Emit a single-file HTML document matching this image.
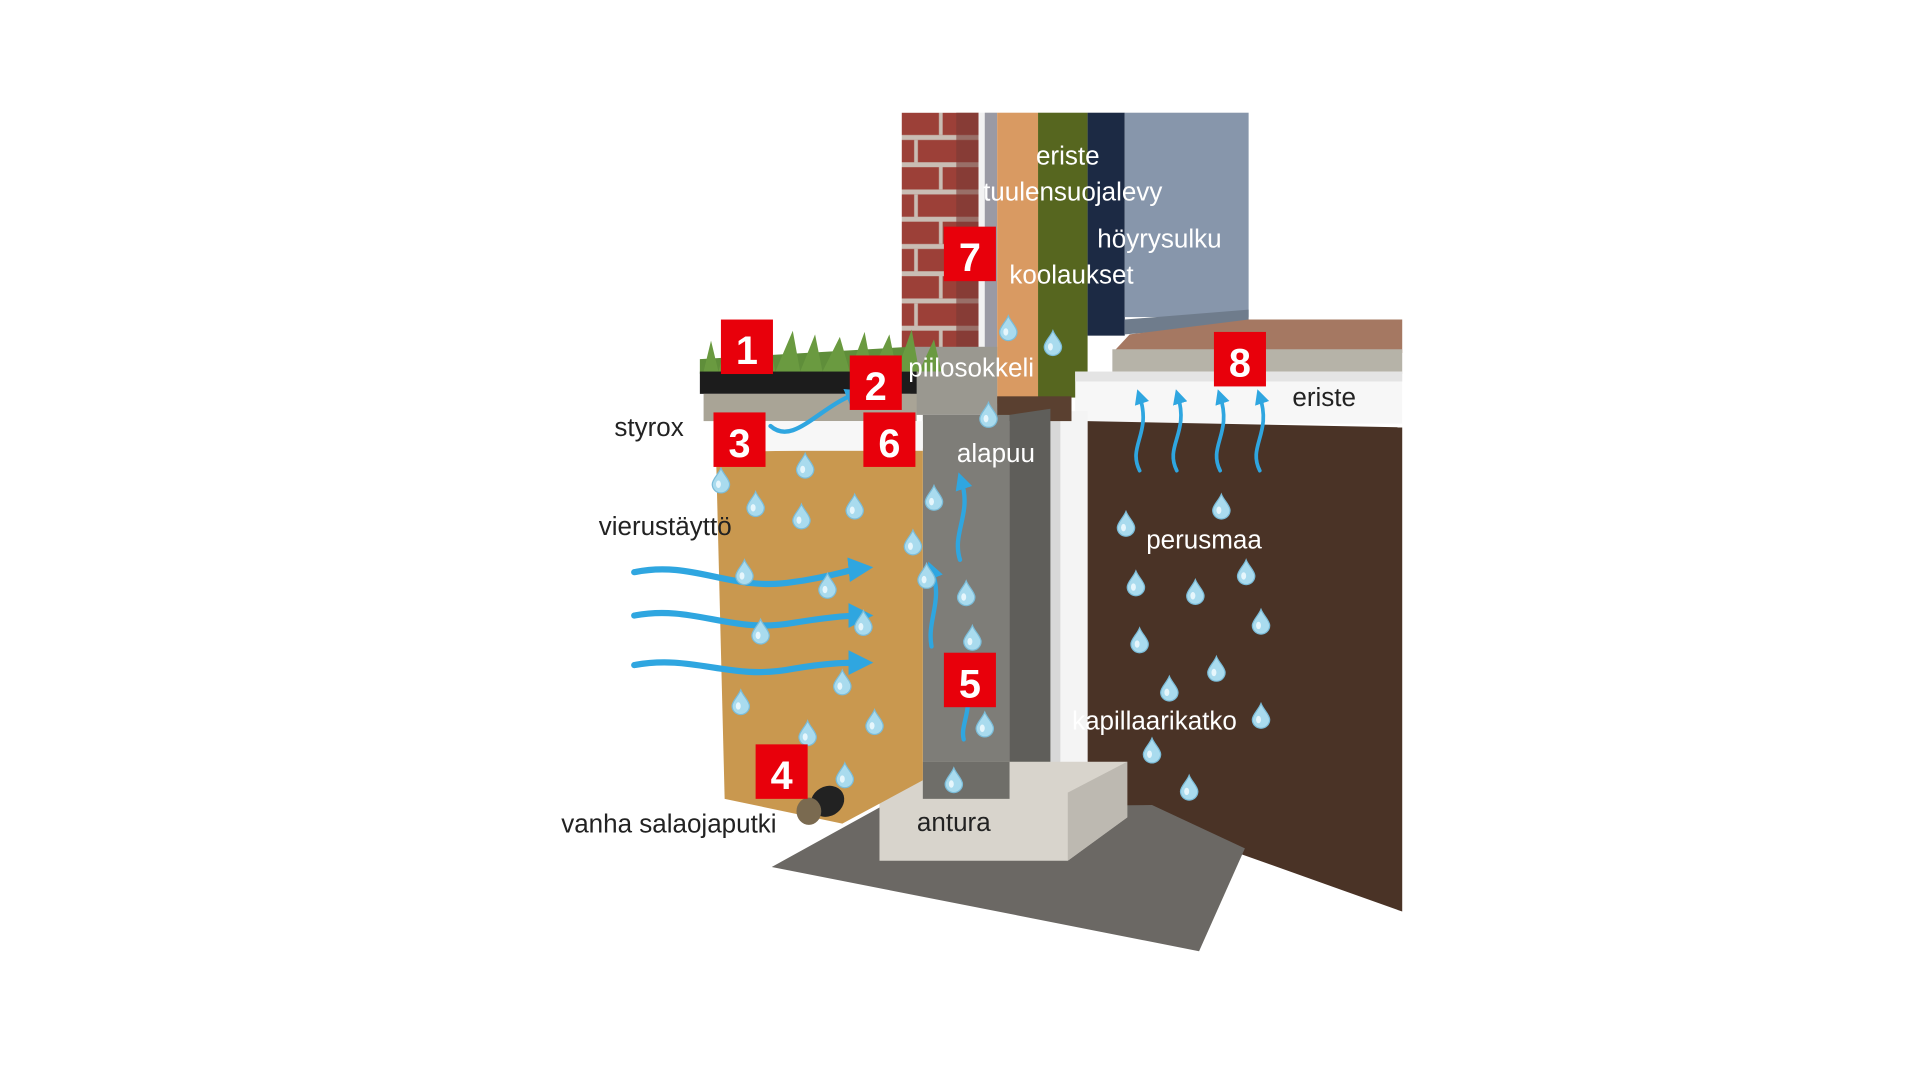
<!DOCTYPE html>
<html><head><meta charset="utf-8"><style>html,body{margin:0;padding:0;background:#fff;}svg{display:block}</style></head>
<body>
<svg width="1920" height="1080" viewBox="0 0 1550 872" preserveAspectRatio="none" xmlns="http://www.w3.org/2000/svg" font-family="'Liberation Sans', sans-serif">
<defs>
<pattern id="brick" width="62" height="44" patternUnits="userSpaceOnUse" x="728" y="91">
<rect width="62" height="44" fill="#9c4038"/>
<rect y="18" width="62" height="4" fill="#c9bdb4"/><rect y="40" width="62" height="4" fill="#c9bdb4"/>
<rect x="30" y="0" width="3" height="18" fill="#c9bdb4"/><rect x="10" y="22" width="3" height="18" fill="#c9bdb4"/>
</pattern>
<marker id="ah" markerWidth="4" markerHeight="4" refX="2" refY="2" orient="auto" markerUnits="strokeWidth"><path d="M0,0 L4,2 L0,4Z" fill="#2fa6e0"/></marker>
<g id="d"><path d="M0,-10 C2,-5 7,-1 7,3 A7,7 0 0 1 -7,3 C-7,-1 -2,-5 0,-10Z" fill="#a9dbee" stroke="#7bbcd8" stroke-width="1"/><ellipse cx="-2" cy="3" rx="2" ry="3" fill="#e6f6fc"/></g>
</defs>
<rect width="1550" height="872" fill="#fff"/>
<!-- wall layers -->
<rect x="728" y="91" width="62" height="200" fill="url(#brick)"/>
<rect x="772" y="91" width="18" height="200" fill="#7a3a35" opacity="0.6"/>
<rect x="790" y="91" width="15" height="240" fill="#f2f2f2"/>
<rect x="795" y="91" width="10" height="240" fill="#9a9aa4"/>
<rect x="805" y="91" width="33" height="235" fill="#d99a62"/>
<rect x="838" y="91" width="40" height="230" fill="#56661f"/>
<rect x="878" y="91" width="30" height="180" fill="#1c2a44"/>
<rect x="908" y="91" width="100" height="165" fill="#8796ab"/>
<polygon points="908,258 1008,250 1008,262 908,270" fill="#6f7c8c"/>
<!-- floor -->
<polygon points="912,270 1008,258 1132,258 1132,285 898,285" fill="#a57862"/>
<rect x="898" y="282" width="234" height="20" fill="#b6b3a8"/>
<rect x="868" y="300" width="264" height="42" fill="#f7f7f7"/>
<rect x="868" y="300" width="264" height="8" fill="#e4e4e4"/>
<!-- perusmaa -->
<polygon points="878,340 1132,345 1132,736 1003,690 878,640" fill="#4a3326"/>
<!-- kapillaarikatko -->
<rect x="848" y="332" width="30" height="300" fill="#f4f4f4"/>
<rect x="848" y="332" width="8" height="300" fill="#d8d8d8"/>
<!-- piilosokkeli + block -->
<rect x="735" y="280" width="70" height="55" fill="#9a9890"/>
<rect x="805" y="320" width="60" height="20" fill="#5a4030"/>
<rect x="745" y="335" width="70" height="320" fill="#7e7d78"/>
<polygon points="815,335 848,330 848,635 815,650" fill="#5f5e5a"/>
<!-- gravel -->
<polygon points="623,700 710,652 930,650 1005,685 968,768" fill="#6b6864"/>
<!-- antura -->
<polygon points="710,640 745,615 910,615 910,660 862,695 710,695" fill="#d8d4cc"/>
<polygon points="862,640 910,615 910,660 862,695" fill="#bdb9b1"/>
<rect x="745" y="615" width="70" height="30" fill="#6f6e69"/>
<!-- sand -->
<polygon points="578,365 745,362 745,630 680,665 585,645" fill="#c9984f"/>
<!-- top layers left -->
<polygon points="565,290 735,280 735,300 565,302" fill="#5f8e3a"/>
<path d="M568,300 l6,-25 l6,25 l8,-30 l6,30 l10,-35 l4,35 l12,-28 l6,28 l14,-33 l6,33 l12,-30 l6,30 l14,-28 l8,28 l12,-32 l6,32 l14,-30 l6,30 l12,-34 l6,34 l12,-26 l6,26z" fill="#6a9a40"/>
<rect x="565" y="300" width="175" height="18" fill="#1c1c1c"/>
<rect x="568" y="318" width="172" height="22" fill="#a9a496"/>
<rect x="578" y="340" width="167" height="24" fill="#f7f7f7"/>
<!-- pipe -->
<ellipse cx="668" cy="647" rx="14" ry="12" fill="#222" transform="rotate(-30 668 647)"/>
<ellipse cx="653" cy="655" rx="10" ry="11" fill="#7a6a50"/>
<!-- arrows -->
<g fill="none" stroke="#2fa6e0" stroke-width="5" stroke-linecap="round">
<path d="M512,462 C560,452 590,478 640,470 C670,466 685,460 695,459" marker-end="url(#ah)"/>
<path d="M512,497 C560,488 590,512 640,503 C670,498 685,497 695,497" marker-end="url(#ah)"/>
<path d="M512,537 C560,528 590,550 640,540 C670,535 685,535 695,535" marker-end="url(#ah)"/>
<path d="M622,344 C640,360 660,330 690,318" stroke-width="3.5" marker-end="url(#ah)"/>
<path d="M752,522 C748,500 762,485 752,460" stroke-width="3.5" marker-end="url(#ah)"/>
<path d="M775,452 C768,430 785,415 776,388" stroke-width="3.5" marker-end="url(#ah)"/>
<path d="M778,597 C775,585 785,575 780,555" stroke-width="3.5"/>
<path d="M920,380 C910,360 930,350 920,320" stroke-width="3" marker-end="url(#ah)"/>
<path d="M950,380 C940,360 960,350 951,320" stroke-width="3" marker-end="url(#ah)"/>
<path d="M985,380 C975,360 995,350 985,320" stroke-width="3" marker-end="url(#ah)"/>
<path d="M1017,380 C1007,360 1027,350 1017,320" stroke-width="3" marker-end="url(#ah)"/>
</g>
<!-- drops -->
<g>
<use href="#d" x="582" y="388"/><use href="#d" x="650" y="376"/><use href="#d" x="610" y="407"/><use href="#d" x="647" y="417"/><use href="#d" x="690" y="409"/><use href="#d" x="737" y="438"/><use href="#d" x="754" y="402"/><use href="#d" x="601" y="462"/><use href="#d" x="668" y="473"/><use href="#d" x="614" y="510"/><use href="#d" x="697" y="503"/><use href="#d" x="680" y="551"/><use href="#d" x="598" y="567"/><use href="#d" x="706" y="583"/><use href="#d" x="652" y="592"/><use href="#d" x="682" y="626"/>
<use href="#d" x="780" y="479"/><use href="#d" x="785" y="515"/><use href="#d" x="795" y="585"/><use href="#d" x="770" y="630"/><use href="#d" x="748" y="465"/>
<use href="#d" x="814" y="265"/><use href="#d" x="850" y="277"/><use href="#d" x="798" y="335"/>
<use href="#d" x="909" y="423"/><use href="#d" x="986" y="409"/><use href="#d" x="1006" y="462"/><use href="#d" x="917" y="471"/><use href="#d" x="965" y="478"/><use href="#d" x="1018" y="502"/><use href="#d" x="920" y="517"/><use href="#d" x="982" y="540"/><use href="#d" x="944" y="556"/><use href="#d" x="1018" y="578"/><use href="#d" x="930" y="606"/><use href="#d" x="960" y="636"/>
</g>
<!-- red boxes -->
<g font-weight="bold" font-size="32" fill="#fff" text-anchor="middle">
<rect x="582" y="258" width="42" height="44" fill="#e8000b"/><text x="603" y="294">1</text>
<rect x="686" y="287" width="42" height="44" fill="#e8000b"/><text x="707" y="323">2</text>
<rect x="576" y="333" width="42" height="44" fill="#e8000b"/><text x="597" y="369">3</text>
<rect x="697" y="333" width="42" height="44" fill="#e8000b"/><text x="718" y="369">6</text>
<rect x="762" y="183" width="42" height="44" fill="#e8000b"/><text x="783" y="219">7</text>
<rect x="980" y="268" width="42" height="44" fill="#e8000b"/><text x="1001" y="304">8</text>
<rect x="762" y="527" width="42" height="44" fill="#e8000b"/><text x="783" y="563">5</text>
<rect x="610" y="601" width="42" height="44" fill="#e8000b"/><text x="631" y="637">4</text>
</g>
<!-- labels -->
<g font-size="21" text-anchor="middle" fill="#fff">
<text x="862" y="133">eriste</text>
<text x="866" y="162">tuulensuojalevy</text>
<text x="936" y="200">höyrysulku</text>
<text x="865" y="229">koolaukset</text>
<text x="784" y="304">piilosokkeli</text>
<text x="804" y="373">alapuu</text>
<text x="972" y="443">perusmaa</text>
<text x="932" y="589">kapillaarikatko</text>
</g>
<g font-size="21" text-anchor="middle" fill="#222">
<text x="1069" y="328">eriste</text>
<text x="524" y="352">styrox</text>
<text x="537" y="432">vierustäyttö</text>
<text x="540" y="672">vanha salaojaputki</text>
<text x="770" y="671">antura</text>
</g>
</svg>
</body></html>
